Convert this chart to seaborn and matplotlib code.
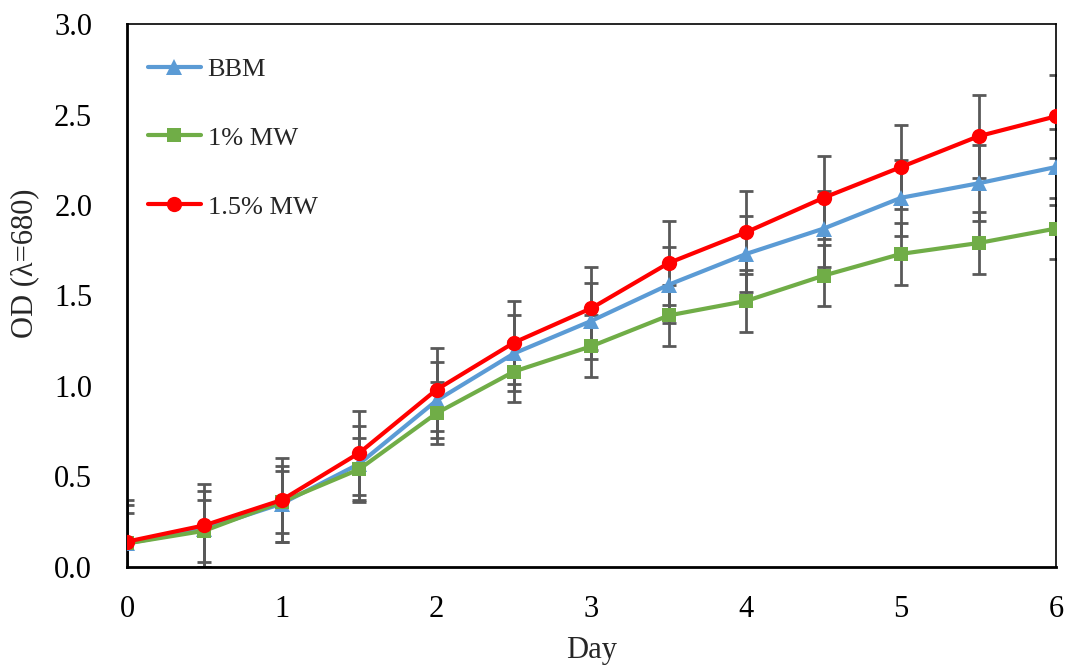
import numpy as np
import pandas as pd
import matplotlib
matplotlib.use("Agg")
import matplotlib.pyplot as plt
import seaborn as sns

days = [0, 0.5, 1, 1.5, 2, 2.5, 3, 3.5, 4, 4.5, 5, 5.5, 6]
bbm = [0.13, 0.21, 0.35, 0.57, 0.92, 1.18, 1.36, 1.56, 1.73, 1.87, 2.04, 2.12, 2.21]
mw1 = [0.13, 0.20, 0.36, 0.54, 0.85, 1.08, 1.22, 1.39, 1.47, 1.61, 1.73, 1.79, 1.87]
mw15 = [0.14, 0.23, 0.37, 0.63, 0.98, 1.24, 1.43, 1.68, 1.85, 2.04, 2.21, 2.38, 2.49]
bbm_err = [0.21] * 13
mw1_err = [0.17] * 13
mw15_err = [0.23] * 13
labels = ["BBM", "1% MW", "1.5% MW"]
x_ticks = [0, 1, 2, 3, 4, 5, 6]
y_ticks = [0.0, 0.5, 1.0, 1.5, 2.0, 2.5, 3.0]

sns.set_theme(style="white")
plt.rcParams["font.family"] = ["Liberation Serif", "DejaVu Serif"]

fig = plt.figure(figsize=(10.66, 6.69), dpi=100)
ax = fig.add_axes([0.1191, 0.1525, 0.8715, 0.8116])

series = [
    (bbm, bbm_err, labels[0], "#5B9BD5", "^", 12),
    (mw1, mw1_err, labels[1], "#70AD47", "s", 10),
    (mw15, mw15_err, labels[2], "#FF0000", "o", 11),
]

for vals, errs, lab, col, mk, ms in series:
    ax.errorbar(days, vals, yerr=errs, fmt="none", ecolor="#595959",
                elinewidth=2, capsize=5, capthick=2, zorder=2)

for i, (vals, errs, lab, col, mk, ms) in enumerate(series):
    df = pd.DataFrame({"Day": days, "OD": vals})
    sns.lineplot(data=df, x="Day", y="OD", ax=ax, color=col, linewidth=3,
                 marker=mk, markersize=ms, markeredgewidth=0, label=lab,
                 zorder=3 + i)

ax.set_xlim(0, 6)
ax.set_ylim(0, 3.0)
ax.set_xticks(x_ticks)
ax.set_xticklabels([str(t) for t in x_ticks])
ax.set_yticks(y_ticks)
ax.set_yticklabels([f"{t:.1f}" for t in y_ticks])
ax.tick_params(axis="both", length=0, labelsize=22, colors="black")
ax.tick_params(axis="x", pad=20)
ax.tick_params(axis="y", pad=25)
ax.set_xlabel("Day", fontsize=22)
ax.set_ylabel("OD (λ=680)", fontsize=22)
ax.xaxis.set_label_coords(0.5, -0.128)
ax.yaxis.set_label_coords(-0.094, 0.56)

for side in ["left", "bottom"]:
    ax.spines[side].set_color("black")
    ax.spines[side].set_linewidth(2)
for side in ["top", "right"]:
    ax.spines[side].set_color("black")
    ax.spines[side].set_linewidth(1.2)

leg = ax.legend(loc="upper left", frameon=False, fontsize=19,
                labelspacing=1.72, handlelength=2.0, handletextpad=0.27,
                borderaxespad=0, bbox_to_anchor=(0.011, 0.958))

fig.savefig("out.png", dpi=100)
